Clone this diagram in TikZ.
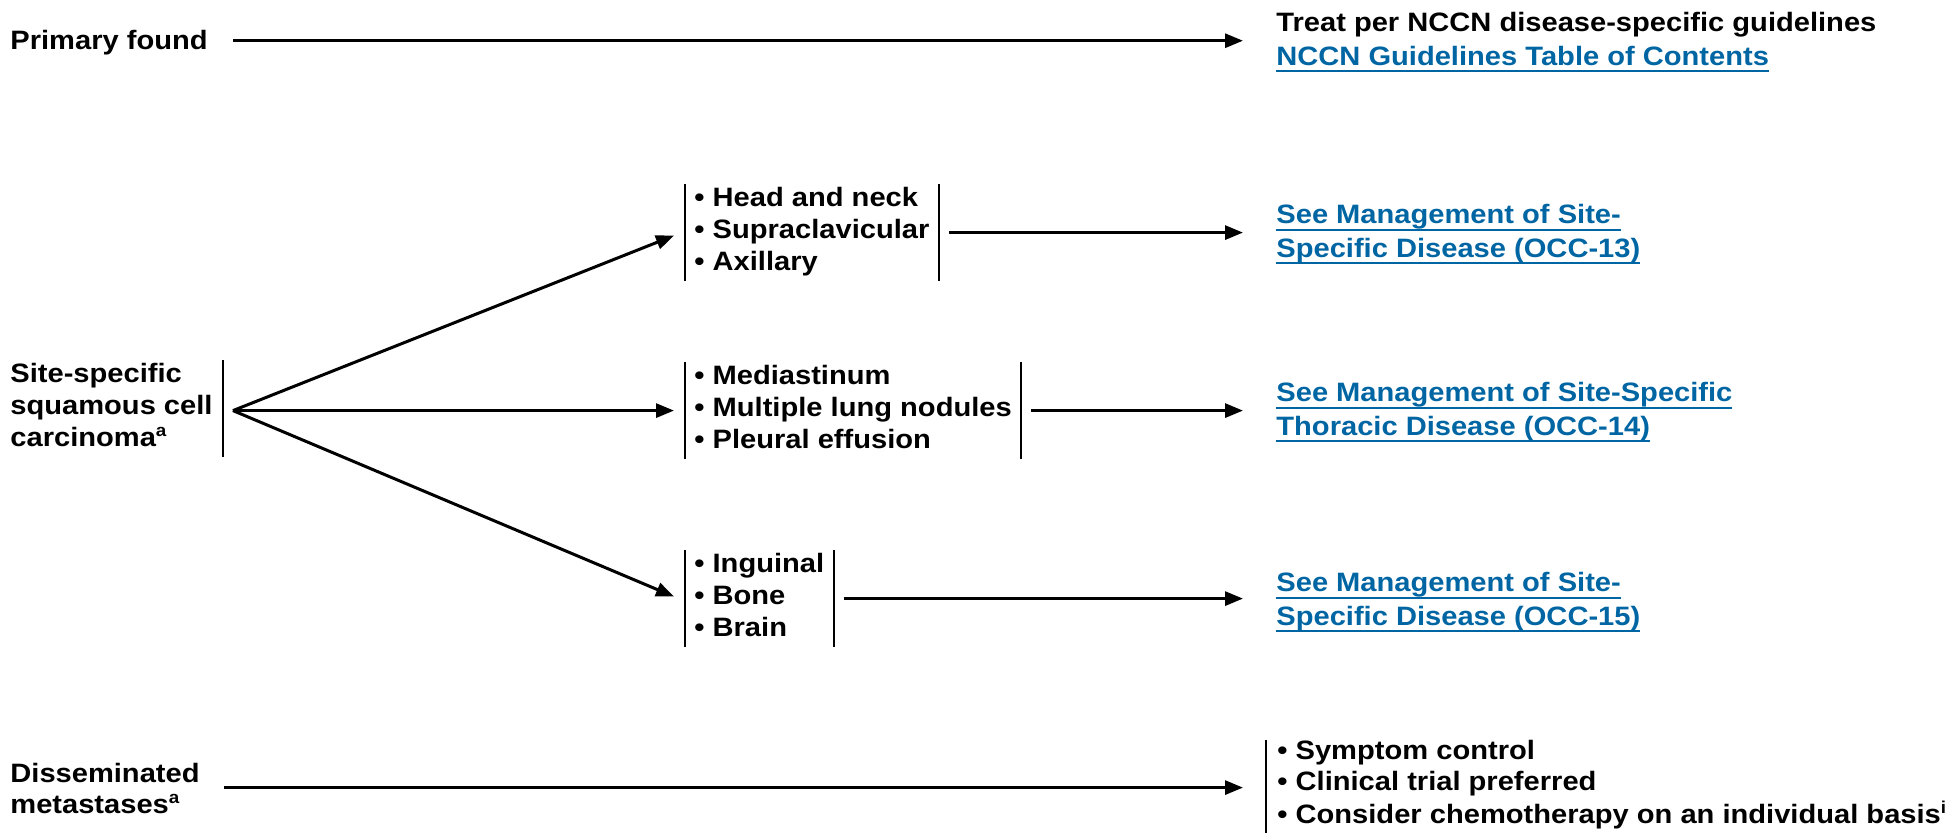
\documentclass[tikz,border=0pt]{standalone}
\usepackage{fontspec}
\setmainfont{Liberation Sans}[FakeStretch=1.094]
\usetikzlibrary{arrows.meta,calc}
\definecolor{lnk}{RGB}{0,101,163}
\newcommand\mainfs{\fontsize{13.3}{16}\selectfont\bfseries}
\newcommand\linkfs{\fontsize{13.3}{16.75}\selectfont\bfseries}
% stacked lines whose baseline is the first line's baseline
\newcommand\rows[1]{\begin{tabular}[t]{@{}l@{}}#1\end{tabular}}
% underlined link text
\newcommand\ulnk[1]{\setbox0=\hbox{#1}\rlap{\rule[-3.4pt]{\wd0}{1pt}}\box0}
% footnote mark
\newcommand\fnm[1]{\raisebox{5.2pt}{\fontsize{8.6}{8.6}\selectfont #1}}

\begin{document}
\begin{tikzpicture}[x=0.5pt,y=-0.5pt,
  txt/.style={inner sep=0pt,anchor=base west,font=\mainfs},
  lnktxt/.style={inner sep=0pt,anchor=base west,font=\linkfs,text=lnk},
  grp/.style={inner xsep=4.5pt,inner ysep=0pt,anchor=base west,font=\mainfs},
  arr/.style={-{Triangle[length=9pt,width=7pt]},line width=1.5pt},
  bar/.style={line width=1pt}]
\useasboundingbox (0,0) rectangle (1955,833);

% ---- primary found
\node[txt] (primary) at (10,50) {Primary found};
\node[txt,font=\linkfs] (treat) at (1276,32)
  {\rows{Treat per NCCN disease-specific guidelines\\
   \textcolor{lnk}{\ulnk{NCCN Guidelines Table of Contents}}}};
\draw[arr] ($(primary.east)+(12.5pt,1.2pt)$) -- ($(primary.east -| treat.west)+(-16.5pt,1.2pt)$);

% ---- site-specific squamous cell carcinoma
\node[txt,inner xsep=5pt] (site) at (0,383)
  {\rows{Site-specific\\ squamous cell\\ carcinoma\fnm{a}}};
\draw[bar] (site.north east) -- (site.south east);

\node[grp] (g1) at (685,207) {\rows{• Head and neck\\ • Supraclavicular\\ • Axillary}};
\node[grp] (g2) at (685,385) {\rows{• Mediastinum\\ • Multiple lung nodules\\ • Pleural effusion}};
\node[grp] (g3) at (685,573) {\rows{• Inguinal\\ • Bone\\ • Brain}};
\foreach \g in {g1,g2,g3}{
  \draw[bar] (\g.north west) -- (\g.south west);
  \draw[bar] (\g.north east) -- (\g.south east);
}
\coordinate (apex) at ($(site.east |- g2.west)+(5pt,0)$);

\node[lnktxt] (l1) at (1276,224)
  {\rows{\ulnk{See Management of Site-}\\ \ulnk{Specific Disease (OCC-13)}}};
\node[lnktxt] (l2) at (1276,402)
  {\rows{\ulnk{See Management of Site-Specific}\\ \ulnk{Thoracic Disease (OCC-14)}}};
\node[lnktxt] (l3) at (1276,592)
  {\rows{\ulnk{See Management of Site-}\\ \ulnk{Specific Disease (OCC-15)}}};

\draw[arr] (apex) -- ($(g1.west)+(-5.5pt,-1.5pt)$);
\draw[arr] (apex) -- ($(apex -| g2.west)+(-5.5pt,0)$);
\draw[arr] (apex) -- ($(g3.west)+(-5.5pt,1pt)$);

\draw[arr] ($(g1.east)+(5pt,0)$) -- ($(g1.east -| l1.west)+(-16.5pt,0)$);
\draw[arr] ($(g2.east)+(5pt,0)$) -- ($(g2.east -| l2.west)+(-16.5pt,0)$);
\draw[arr] ($(g3.east)+(5pt,0)$) -- ($(g3.east -| l3.west)+(-16.5pt,0)$);

% ---- disseminated metastases
\node[txt] (diss) at (10,782) {\rows{Disseminated\\ metastases\fnm{a}}};
\node[grp,inner xsep=5.5pt] (g4) at (1266,759)
  {\rows{• Symptom control\\ • Clinical trial preferred\\
   • Consider chemotherapy on an individual basis\fnm{i}}};
\draw[bar] ($(g4.north west)+(0,-2pt)$) -- ($(g4.south west)+(0,-1pt)$);
\draw[arr] ($(diss.east)+(12pt,2pt)$) -- ($(diss.east -| g4.west)+(-11.5pt,2pt)$);
\end{tikzpicture}
\end{document}
